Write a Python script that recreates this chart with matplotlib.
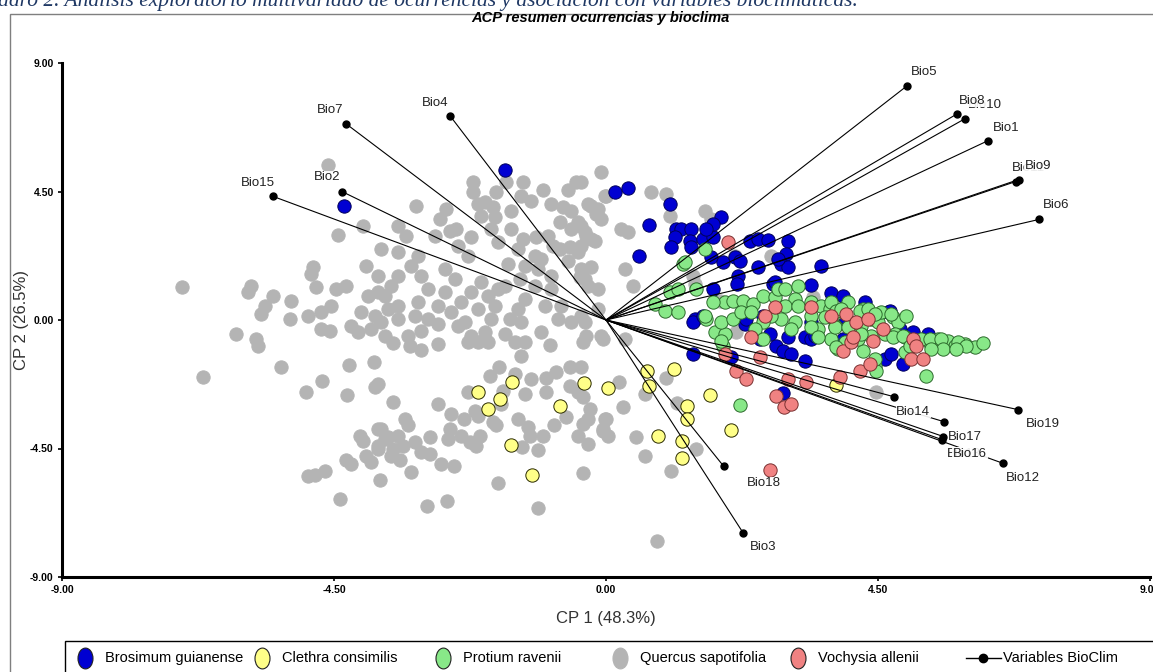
import numpy as np
import matplotlib
matplotlib.use("Agg")
import matplotlib.pyplot as plt
from matplotlib.lines import Line2D
from matplotlib.markers import MarkerStyle
from matplotlib.patches import Rectangle
from matplotlib.transforms import Affine2D

plt.rcParams['font.family'] = ['Liberation Sans', 'DejaVu Sans']

# ---- data (PCA scores, CP1 / CP2) ----
quercus = np.array([
    (-4.60, 5.44), (-4.44, 2.97), (-4.02, 3.28), (-3.72, 2.48), (-3.97, 1.88), (-4.85, 1.85), (-4.88, 1.61),
    (-7.02, 1.15), (-5.88, 1.19), (-5.92, 0.98), (-5.51, 0.84), (-5.64, 0.49), (-5.71, 0.21), (-5.21, 0.66),
    (-5.23, 0.03), (-4.93, 0.14), (-4.72, 0.28), (-4.55, 0.49), (-4.80, 1.15), (-4.47, 1.08), (-4.30, 1.19),
    (-3.94, 0.84), (-3.77, 0.98), (-4.05, 0.28), (-4.22, -0.21), (-3.82, 0.14), (-3.89, -0.31), (-4.10, -0.42),
    (-3.66, -0.56), (-4.72, -0.31), (-4.57, -0.38), (-6.12, -0.49), (-5.79, -0.66), (-5.76, -0.91),
    (-6.67, -1.99), (-5.38, -1.64), (-4.70, -2.13), (-4.97, -2.51), (-4.25, -1.57), (-3.84, -1.47), (-3.82, -2.34),
    (-4.29, -2.62), (-3.77, -3.80), (-4.07, -4.05), (-4.02, -4.22), (-3.66, -4.15), (-3.77, -4.50), (-3.97, -4.78),
    (-3.89, -4.96), (-4.30, -4.92), (-4.22, -5.03), (-4.65, -5.30), (-4.93, -5.48), (-4.82, -5.44), (-3.74, -5.62),
    (-4.40, -6.28),
    (-3.53, -0.80), (-3.24, -0.91), (-3.06, -1.05), (-2.78, -0.84), (-2.28, -0.77), (-2.12, -0.77), (-1.95, -0.77),
    (-1.51, -0.77), (-1.34, -0.77), (-1.41, -1.26), (-0.93, -0.87), (-0.38, -0.77), (-3.77, -2.23), (-3.53, -2.86),
    (-2.78, -2.93), (-2.57, -3.28), (-3.33, -3.46), (-3.28, -3.66), (-3.72, -3.80), (-3.61, -4.08), (-3.44, -4.05),
    (-3.77, -4.40), (-3.53, -4.50), (-3.36, -4.40), (-3.56, -4.78), (-3.41, -4.89), (-3.16, -4.26), (-2.91, -4.08),
    (-3.06, -4.61), (-2.91, -4.68), (-2.58, -3.80), (-2.61, -4.15), (-2.40, -4.05), (-2.25, -4.26), (-2.15, -4.40),
    (-2.09, -4.05), (-2.35, -3.46), (-2.28, -2.51), (-2.17, -3.18), (-2.12, -3.35), (-1.92, -1.95), (-1.77, -1.64),
    (-1.70, -2.48), (-1.74, -2.93), (-1.87, -3.56), (-1.82, -3.66), (-1.51, -1.88), (-1.24, -2.06), (-1.34, -2.58),
    (-1.46, -3.46), (-1.29, -3.73), (-1.26, -4.05), (-1.39, -4.43), (-1.13, -4.57), (-1.04, -4.05), (-0.99, -2.02),
    (-0.99, -2.51), (-0.83, -1.81), (-0.60, -1.64), (-0.41, -1.64), (-0.60, -2.30), (-0.46, -2.51), (-0.38, -2.69),
    (-0.66, -3.39), (-0.86, -3.66), (-0.26, -3.11), (-0.30, -3.46), (-0.38, -3.63), (-0.46, -4.05), (-0.30, -4.33),
    (-0.02, -3.46), (-0.05, -3.87), (-2.73, -5.06), (-2.52, -5.10), (-3.23, -5.34), (-1.79, -5.72), (-2.96, -6.53),
    (-2.63, -6.35),
    (-0.05, -0.66), (0.31, -0.66), (0.22, -2.16), (0.65, -2.58), (0.99, -2.02), (0.28, -3.04), (1.18, -2.90),
    (0.00, -3.46), (-0.05, -3.80), (0.03, -4.05), (0.50, -4.08), (0.65, -4.75), (1.49, -4.50), (1.08, -5.30),
    (0.84, -7.75), (-1.13, -6.60), (-0.38, -5.37),
    (-2.20, 4.85), (-2.20, 4.50), (-1.82, 4.50), (-1.66, 4.85), (-1.37, 4.85), (-1.41, 4.33), (-1.04, 4.57),
    (-1.24, 4.15), (-0.91, 4.05), (-0.71, 3.94), (-0.58, 3.80), (-0.50, 4.82), (-0.63, 4.57), (-0.08, 5.20),
    (-0.25, 3.98), (-0.17, 3.70), (-0.02, 4.33), (-3.14, 3.98), (-2.65, 3.87), (-2.75, 3.52), (-2.48, 3.18),
    (-2.58, 3.11), (-2.12, 4.05), (-2.00, 4.12), (-2.07, 3.63), (-1.87, 3.94), (-1.84, 3.59), (-1.57, 3.80),
    (-1.57, 3.18), (-1.37, 2.83), (-1.16, 2.90), (-0.96, 2.93), (-0.76, 3.42), (-0.58, 3.18), (-0.41, 3.28),
    (-0.33, 2.93), (-0.18, 2.76), (-0.60, 2.55), (-0.46, 2.37), (-0.76, 2.48), (-0.88, 2.58), (-3.44, 3.28),
    (-3.31, 2.93), (-3.44, 2.37), (-3.11, 2.23), (-2.83, 2.93), (-2.23, 2.90), (-2.45, 2.58), (-2.28, 2.23),
    (-1.90, 3.18), (-1.79, 2.72), (-1.46, 2.48), (-1.18, 2.23), (-1.08, 2.13), (-0.25, 1.85), (-0.13, 1.08),
    (-0.43, 1.50), (-0.63, 2.06), (-0.30, 1.19), (-0.91, 1.54), (-1.13, 1.78), (-1.34, 1.88), (-1.62, 1.95),
    (-1.67, 1.19), (-1.42, 1.43), (-1.18, 1.19), (-0.91, 1.08), (-0.74, 0.49), (-1.01, 0.49), (-1.34, 0.73),
    (-1.46, 0.38), (-1.59, 0.03), (-1.41, -0.07), (-0.79, 0.03), (-0.58, -0.07), (-0.41, 0.14), (-0.33, -0.56),
    (-1.08, -0.42), (-1.67, -0.49), (-2.00, -0.42), (-2.23, -0.56), (-2.45, -0.21), (-2.78, -0.14), (-3.06, -0.38),
    (-3.28, -0.56), (-3.56, 1.19), (-3.44, 1.54), (-3.23, 1.88), (-3.06, 1.54), (-2.95, 1.08), (-2.66, 1.78),
    (-2.50, 1.43), (-2.66, 0.98), (-2.78, 0.49), (-3.11, 0.63), (-3.44, 0.49), (-3.61, 0.38), (-3.72, -0.07),
    (-3.44, 0.03), (-3.16, 0.14), (-2.95, 0.03), (-2.57, 0.28), (-2.40, 0.63), (-2.23, 0.98), (-2.07, 1.33),
    (-1.95, 0.84), (-1.79, 1.08), (-1.84, 0.49), (-2.12, 0.38), (-2.33, -0.07), (-1.90, 0.03), (-3.66, 0.84),
    (-3.77, 1.54),
    (-0.41, 4.82), (0.00, 4.33), (-0.30, 4.05), (-0.13, 3.87), (-0.08, 3.52), (-0.46, 3.42), (-0.35, 3.07),
    (-0.25, 2.83), (-0.41, 2.58), (0.25, 3.18), (0.36, 3.07), (0.31, 1.78), (0.45, 1.19), (-0.35, 1.43),
    (-0.13, 0.38), (-0.35, -0.07), (-0.08, -0.56), (0.74, 4.47), (0.99, 4.40), (1.06, 3.63), (1.64, 3.80),
    (1.74, 3.52), (1.44, 1.54), (1.47, 1.26), (2.73, 2.23), (2.13, 2.23), (1.89, 0.66), (2.15, -0.42),
    (3.43, 0.80), (-0.41, 1.78), (4.47, -2.51),
])

brosimum = np.array([
    (0.15, 4.47), (0.36, 4.61), (1.06, 4.05), (0.71, 3.32), (1.16, 3.18), (1.24, 3.18), (1.41, 3.18),
    (1.14, 2.90), (1.39, 2.76), (1.41, 2.55), (1.08, 2.55), (1.61, 2.83), (1.77, 2.90), (1.90, 3.59),
    (1.77, 3.35), (1.66, 3.18), (1.74, 2.20), (1.94, 2.02), (2.13, 2.20), (2.22, 2.06), (2.18, 1.54),
    (2.17, 1.26), (2.38, 2.76), (2.52, 2.83), (2.68, 2.79), (3.01, 2.76), (2.98, 2.30), (2.90, 1.95),
    (3.01, 1.85), (2.85, 2.13), (2.52, 1.85), (0.55, 2.23), (1.77, 1.08), (2.76, 1.26), (3.39, 1.22),
    (3.56, 1.88), (1.47, 0.03), (1.44, -0.07), (1.61, 0.14), (2.30, -0.14), (2.32, 0.03), (2.71, -0.49),
    (2.55, -0.66), (3.01, -0.59), (3.29, -0.59), (3.39, -0.66), (2.81, -0.91), (2.93, -1.08), (3.06, -1.19),
    (3.29, -1.43), (3.46, -0.56), (3.72, 0.94), (3.92, 0.84), (4.29, 0.63), (3.96, 0.10), (4.67, 0.28),
    (4.62, -1.36), (4.72, -1.19), (4.92, -1.54), (5.33, -0.49), (1.44, -1.19), (2.07, -1.29), (2.60, 0.14),
    (2.80, 1.33), (3.39, -0.07), (-1.67, 5.24), (-4.34, 3.98), (5.08, -0.42), (4.87, -0.31), (2.93, -2.55),
    (3.92, -0.66), (4.70, 0.31),
])

clethra = np.array([
    (-2.12, -2.51), (-1.95, -3.11), (-1.56, -2.16), (-1.75, -2.76), (-1.57, -4.36), (-1.22, -5.44),
    (-0.76, -3.00), (-0.36, -2.20), (0.03, -2.37), (0.68, -1.78), (1.13, -1.71), (0.71, -2.30),
    (1.72, -2.62), (1.34, -3.00), (1.34, -3.46), (0.86, -4.05), (2.07, -3.84), (1.26, -4.22),
    (1.26, -4.82), (3.81, -2.27),
])

protium = np.array([
    (1.64, 2.48), (1.27, 1.95), (0.81, 0.56), (0.98, 0.31), (1.19, 0.28), (1.06, 0.98), (1.19, 1.08),
    (1.49, 1.08), (1.66, 0.03), (1.80, -0.42), (1.97, -0.49), (1.94, -0.91), (1.90, -0.07), (2.10, 0.03),
    (1.97, 0.63), (2.10, 0.66), (2.27, 0.66), (2.23, 0.28), (2.43, 0.56), (2.40, 0.28), (2.60, 0.84),
    (2.80, 0.80), (2.85, 1.08), (2.96, 1.08), (3.18, 1.19), (3.13, 0.73), (2.96, 0.49), (3.18, 0.49),
    (3.39, 0.63), (3.56, 0.49), (3.71, 0.38), (3.39, 0.14), (3.62, 0.10), (3.79, -0.21), (3.51, -0.31),
    (3.13, -0.07), (2.90, 0.03), (2.73, 0.14), (2.60, -0.07), (2.47, -0.31), (2.60, -0.66), (3.06, -0.31),
    (3.39, -0.24), (3.84, 0.28), (4.00, 0.63), (4.25, 0.38), (4.39, 0.03), (4.22, -0.21), (4.50, -0.07),
    (4.55, 0.28), (4.75, 0.10), (4.83, -0.07), (4.78, -0.49), (4.39, -0.56), (4.25, -1.08), (4.45, -1.61),
    (4.95, -0.59), (5.05, -0.73), (5.33, -0.73), (5.49, -0.66), (5.66, -0.73), (5.78, -0.91), (5.94, -0.84),
    (6.11, -0.94), (6.24, -0.80), (5.29, -1.95), (4.95, -1.12), (3.84, -1.01), (3.95, -0.77), (3.72, -0.66),
    (3.51, -0.59), (4.17, -0.66), (1.77, 0.63), (1.64, 0.14), (1.90, -0.73), (1.31, 2.02), (3.72, 0.63),
    (3.81, 0.31), (3.89, 0.38), (4.20, 0.31), (4.34, 0.38), (4.45, 0.21), (4.72, 0.21), (4.97, 0.14),
    (3.79, -0.24), (4.00, -0.24), (4.22, -0.49), (4.62, -0.49), (4.75, -0.59), (4.92, -0.56), (5.03, -0.91),
    (5.21, -0.66), (5.36, -0.66), (5.54, -0.66), (5.82, -0.77), (5.96, -0.91), (5.58, -1.01), (5.38, -1.01),
    (5.79, -1.01), (3.81, -0.94), (4.47, -1.78), (4.45, -1.36), (2.22, -2.97),
])

vochysia = np.array([
    (2.02, 2.72), (2.80, 0.45), (2.63, 0.14), (3.39, 0.45), (3.72, 0.14), (3.97, 0.21), (4.14, -0.07),
    (4.34, 0.03), (4.42, -0.73), (4.58, -0.31), (3.92, -1.08), (4.05, -0.77), (5.08, -0.66), (5.13, -0.91),
    (5.05, -1.36), (5.25, -1.36), (2.40, -0.59), (2.55, -1.29), (1.97, -1.19), (2.15, -1.78), (2.32, -2.06),
    (3.01, -2.06), (3.31, -2.16), (3.87, -1.99), (4.20, -1.78), (4.37, -1.54), (2.81, -2.65), (2.95, -3.04),
    (3.06, -2.93), (4.09, -0.59), (2.71, -5.27),
])

bio_names = ['Bio5', 'Bio10', 'Bio8', 'Bio1', 'Bio11', 'Bio9', 'Bio6', 'Bio7', 'Bio4', 'Bio2', 'Bio15',
             'Bio14', 'Bio19', 'Bio13', 'Bio17', 'Bio16', 'Bio12', 'Bio18', 'Bio3']
bio_x = [4.98, 5.94, 5.81, 6.32, 6.78, 6.83, 7.16, -4.30, -2.58, -4.37, -5.51,
         4.77, 6.82, 5.59, 5.58, 5.56, 6.57, 1.95, 2.27]
bio_y = [8.20, 7.05, 7.22, 6.28, 4.85, 4.92, 3.52, 6.87, 7.15, 4.50, 4.33,
         -2.69, -3.14, -3.56, -4.08, -4.19, -5.02, -5.13, -7.46]

species = ['Brosimum guianense', 'Clethra consimilis', 'Protium ravenii', 'Quercus sapotifolia', 'Vochysia allenii']

# ---- styling / layout ----
W, H = 1153, 672
face = {'Brosimum guianense': '#0000d2', 'Clethra consimilis': '#ffff88', 'Protium ravenii': '#88e888',
        'Quercus sapotifolia': '#b4b4b4', 'Vochysia allenii': '#f08282'}
edge = {'Brosimum guianense': '#00005a', 'Clethra consimilis': '#2a2a00', 'Protium ravenii': '#2c6a2c',
        'Quercus sapotifolia': '#b4b4b4', 'Vochysia allenii': '#7a3030'}
# label offsets in pixels (dx, dy), alignment
lab_off = {'Bio5': (17, 14, 'center'), 'Bio8': (15, 13, 'center'), 'Bio10': (20, 14, 'center'),
           'Bio1': (18, 13, 'center'), 'Bio9': (19, 14, 'center'), 'Bio11': (13, 14, 'center'),
           'Bio6': (17, 14, 'center'), 'Bio7': (-16, 14, 'center'), 'Bio4': (-15, 13, 'center'),
           'Bio2': (-15, 14, 'center'), 'Bio15': (-15, 13, 'center'), 'Bio14': (19, -15, 'center'),
           'Bio19': (25, -14, 'center'), 'Bio13': (3, -32, 'left'), 'Bio17': (5, 0, 'left'),
           'Bio16': (11, -14, 'left'), 'Bio12': (20, -15, 'center'), 'Bio18': (40, -17, 'center'),
           'Bio3': (20, -14, 'center')}

fig = plt.figure(figsize=(W / 100, H / 100), dpi=100)
ax = fig.add_axes([62 / W, (H - 577) / H, (1150 - 62) / W, (577 - 63) / H])

for name, pts in [('Quercus sapotifolia', quercus), ('Brosimum guianense', brosimum),
                  ('Clethra consimilis', clethra), ('Protium ravenii', protium),
                  ('Vochysia allenii', vochysia)]:
    ax.scatter(pts[:, 0], pts[:, 1], s=92, c=face[name], edgecolors=edge[name], linewidths=0.7, zorder=2)

for name, bx, by in zip(bio_names, bio_x, bio_y):
    ax.plot([0, bx], [0, by], color='black', lw=0.8, zorder=4)
    ax.plot(bx, by, 'o', color='black', ms=5, zorder=5)
    dx, dy, ha = lab_off[name]
    ax.annotate(name, (bx, by), xytext=(dx, dy), textcoords='offset pixels', ha=ha, va='center',
                fontsize=9.5, color='#222222', zorder=6,
                bbox=dict(boxstyle='square,pad=0.05', fc='white', ec='none', alpha=0.9))

ax.set_xlim(-9, 9)
ax.set_ylim(-9, 9)
ticks = [-9, -4.5, 0, 4.5, 9]
ax.set_xticks(ticks)
ax.set_yticks(ticks)
ax.set_xticklabels(['%.2f' % t for t in ticks], fontsize=7.5, fontweight='bold')
ax.set_yticklabels(['%.2f' % t for t in ticks], fontsize=7.5, fontweight='bold')
ax.tick_params(length=3, width=1.2, pad=3)
for s in ['top', 'right']:
    ax.spines[s].set_visible(False)
for s in ['left', 'bottom']:
    ax.spines[s].set_linewidth(2.2)
ax.set_xlabel('CP 1 (48.3%)', fontsize=12, labelpad=11, color='#333333')
ax.set_ylabel('CP 2 (26.5%)', fontsize=12, labelpad=1, color='#333333')

fig.text(600 / W, 1 - 18 / H, 'ACP resumen ocurrencias y bioclima', ha='center', va='center',
         fontsize=10.5, fontweight='bold', fontstyle='italic')
fig.text(-27 / W, 1 - 6 / H,
         'Cuadro 2. Análisis exploratorio multivariado de ocurrencias y asociación con variables bioclimáticas.',
         fontsize=15.5, fontstyle='italic', color='#1f3864', family=['Liberation Serif', 'DejaVu Serif'],
         va='baseline')

# outer frame
fig.add_artist(Rectangle((10 / W, -0.05), 1.2, 1 - 14 / H + 0.05, transform=fig.transFigure,
                         fill=False, ec='#7f7f7f', lw=1))

# legend box drawn by hand
fig.add_artist(Rectangle((65 / W, -0.05), 1.2, 1 - 641 / H + 0.05, transform=fig.transFigure,
                         fill=False, ec='black', lw=1))
oval = MarkerStyle('o', transform=Affine2D().scale(0.72, 1.0))
leg_y = 1 - 658 / H
for name, px in zip(species, [85, 262, 443, 620, 798]):
    fig.add_artist(Line2D([px / W], [leg_y], marker=oval, ms=15, ls='none', mfc=face[name],
                          mec='#222222' if name != 'Quercus sapotifolia' else face[name], mew=0.8,
                          transform=fig.transFigure))
    fig.text((px + 20) / W, leg_y, name, va='center', ha='left', fontsize=10.5)
fig.add_artist(Line2D([966 / W, 1001 / W], [leg_y, leg_y], color='black', lw=1, transform=fig.transFigure))
fig.add_artist(Line2D([983 / W], [leg_y], marker='o', ms=6, color='black', transform=fig.transFigure))
fig.text(1003 / W, leg_y, 'Variables BioClim', va='center', ha='left', fontsize=10.5)

fig.savefig('out.png', dpi=100)
